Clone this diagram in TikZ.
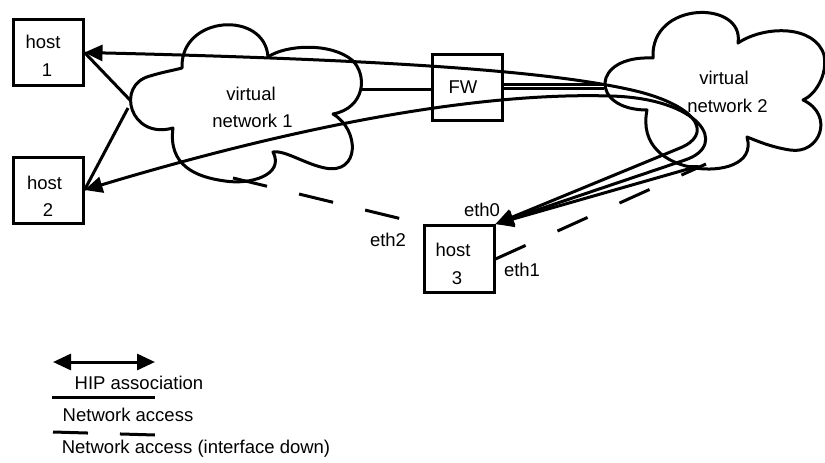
\documentclass[tikz,border=0pt]{standalone}
\usepackage{fontspec}
\setmainfont{Liberation Sans}
\usetikzlibrary{arrows.meta}
\begin{document}
\begin{tikzpicture}[x=1pt, y=-1pt,
  >={Triangle[length=18pt,width=16pt]},
  hostbox/.style={draw, line width=3pt, minimum width=70pt, minimum height=66pt, inner sep=0pt},
  txt/.style={inner sep=0pt, font=\fontsize{18.5}{22}\selectfont},
  net/.style={line width=3pt},
  hip/.style={line width=3pt, <->},
  ifdown/.style={line width=3pt, dash pattern=on 33pt off 35pt},
  cloudline/.style={line width=3pt, line join=round}]
\useasboundingbox (0,0) rectangle (825,463);

% hosts and firewall
\node[hostbox] (h1) at (48,52.5) {};
\node[txt] (h1a) at (43,42) {host};
\node[txt] (h1b) at (47,70) {1};
\node[hostbox] (h2) at (48,190) {};
\node[txt] (h2a) at (44.5,183) {host};
\node[txt] (h2b) at (48,210) {2};
\node[hostbox, minimum width=70pt, minimum height=67pt] (h3) at (459,259) {};
\node[txt] (h3a) at (453,250) {host};
\node[txt] (h3b) at (457,278) {3};
\node[hostbox] (fw) at (467,87) {};
\node[txt] (fwt) at (463,87) {FW};

% virtual network 1
\draw[cloudline] (182,68) .. controls (180,15) and (265,10) .. (268,57)
  .. controls (285,45) and (330,42) .. (352,60)
  .. controls (368,75) and (365,108) .. (333,114)
  .. controls (360,130) and (360,175) .. (325,168)
  .. controls (305,164) and (285,150) .. (273,152)
  .. controls (285,175) and (250,185) .. (225,181)
  .. controls (195,177) and (168,165) .. (173,128)
  .. controls (130,140) and (115,85) .. (150,76)
  .. controls (163,72) and (175,70) .. cycle;
\node[txt] (v1a) at (251,94) {virtual};
\node[txt] (v1b) at (252.5,121) {network 1};

% virtual network 2
\draw[cloudline] (653,58) .. controls (650,0) and (745,0) .. (738,43)
  .. controls (765,25) and (815,25) .. (824,55)
  .. controls (828,75) and (815,95) .. (803,100)
  .. controls (835,115) and (820,155) .. (790,150)
  .. controls (770,147) and (755,140) .. (747,137)
  .. controls (755,165) and (720,172) .. (695,168)
  .. controls (665,163) and (640,145) .. (647,110)
  .. controls (590,110) and (590,55) .. cycle;
\node[txt] (v2a) at (724,78) {virtual};
\node[txt] (v2b) at (727.5,106) {network 2};

% attachment points on the clouds
\coordinate (c1wa) at (130,100);
\coordinate (c1wb) at (128,108);
\coordinate (c1e) at (362,89);
\coordinate (c1s) at (233,178);
\coordinate (c2wa) at (604,84);
\coordinate (c2wb) at (604,88);
\coordinate (c2s) at (702,165);
\coordinate (c2sb) at (706,164);

% network access
\draw[net] (h1.east) -- (c1wa);
\draw[net] (h2.east) -- (c1wb);
\draw[net] (c1e) -- (fw.west |- c1e);
\draw[net] (fw.east |- c2wa) -- (c2wa);
\draw[net] (fw.east |- c2wb) -- (c2wb);

% interfaces that are down
\draw[ifdown] (h3.east) -- (c2sb);
\draw[ifdown, dash pattern=on 35pt off 33pt] (c1s) -- (h3.north west);

% HIP associations
\draw[hip] (h1.east) .. controls (400,60) and (560,72) .. (640,92)
  .. controls (700,108) and (712,135) .. (680,148) -- (h3.north east);
\draw[hip] (h2.east) .. controls (300,125) and (480,92) .. (610,96)
  .. controls (700,98) and (730,145) .. (685,160) -- (h3.north east);
\draw[line width=3pt, {Triangle[length=18pt,width=16pt]}-{Triangle[length=14pt,width=7pt]}]
  (h3.north east) -- (c2s);

% interface labels
\node[txt] (e0) at (482,210) {eth0};
\node[txt] (e1) at (522,270) {eth1};
\node[txt] (e2) at (388,240) {eth2};

% legend
\coordinate (la) at (53,362);
\coordinate (lb) at (155,362);
\coordinate (lc) at (52,397);
\coordinate (ld) at (155,397);
\coordinate (le) at (53,432);
\coordinate (lf) at (155,435);
\draw[hip] (la) -- (lb);
\node[txt] (l1) at (139,383) {HIP association};
\draw[net] (lc) -- (ld);
\node[txt] (l2) at (128,415) {Network access};
\draw[ifdown, dash pattern=on 35pt off 32pt] (le) -- (lf);
\node[txt] (l3) at (196,449) {Network access (interface down)};
\end{tikzpicture}
\end{document}
